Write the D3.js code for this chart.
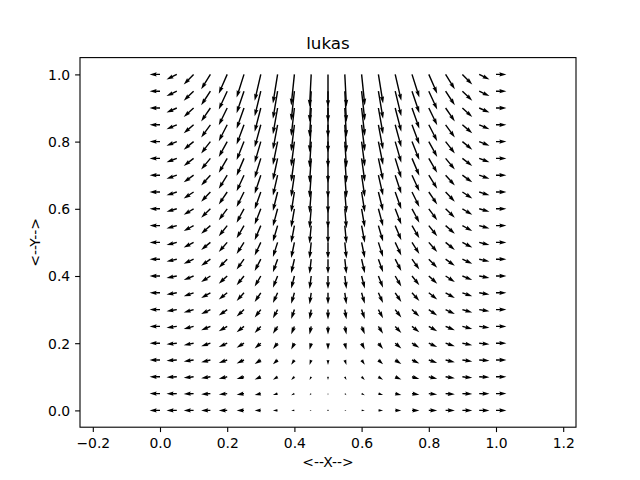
<!DOCTYPE html>
<html>
<head>
<meta charset="utf-8">
<script src="https://cdn.jsdelivr.net/npm/d3@7"></script>
<style>
  body { margin: 0; background: #fff; }
  svg { display: block; font-family: 'DejaVu Sans', sans-serif; }
</style>
</head>
<body>
<svg width="640" height="480"></svg>
<script>
// grid positions (tails of the arrows)
const xGrid = [0, 0.05, 0.1, 0.15, 0.2, 0.25, 0.3, 0.35, 0.4, 0.45, 0.5, 0.55, 0.6, 0.65, 0.7, 0.75, 0.8, 0.85, 0.9, 0.95, 1]
const yGrid = [0, 0.05, 0.1, 0.15, 0.2, 0.25, 0.3, 0.35, 0.4, 0.45, 0.5, 0.55, 0.6, 0.65, 0.7, 0.75, 0.8, 0.85, 0.9, 0.95, 1]

// horizontal component, the same on every row
const uByColumn = [-1.00, -0.99, -0.95, -0.89, -0.81, -0.71, -0.59, -0.45, -0.31, -0.16, 0.00, 0.16, 0.31, 0.45, 0.59, 0.71, 0.81, 0.89, 0.95, 0.99, 1.00]

// vertical component, one row per yGrid value (bottom to top)
const vRows = [
  [0, 0, 0, 0, 0, 0, 0, 0, 0, 0, 0, 0, 0, 0, 0, 0, 0, 0, 0, 0, 0],
  [0, -0.02, -0.05, -0.07, -0.09, -0.11, -0.13, -0.14, -0.15, -0.16, -0.16, -0.16, -0.15, -0.14, -0.13, -0.11, -0.09, -0.07, -0.05, -0.02, 0],
  [0, -0.05, -0.10, -0.14, -0.19, -0.22, -0.25, -0.28, -0.30, -0.31, -0.31, -0.31, -0.30, -0.28, -0.25, -0.22, -0.19, -0.14, -0.10, -0.05, 0],
  [0, -0.07, -0.15, -0.21, -0.28, -0.33, -0.38, -0.42, -0.45, -0.47, -0.47, -0.47, -0.45, -0.42, -0.38, -0.33, -0.28, -0.21, -0.15, -0.07, 0],
  [0, -0.10, -0.19, -0.29, -0.37, -0.44, -0.51, -0.56, -0.60, -0.62, -0.63, -0.62, -0.60, -0.56, -0.51, -0.44, -0.37, -0.29, -0.19, -0.10, 0],
  [0, -0.12, -0.24, -0.36, -0.46, -0.56, -0.64, -0.70, -0.75, -0.78, -0.79, -0.78, -0.75, -0.70, -0.64, -0.56, -0.46, -0.36, -0.24, -0.12, 0],
  [0, -0.15, -0.29, -0.43, -0.56, -0.67, -0.76, -0.84, -0.90, -0.93, -0.94, -0.93, -0.90, -0.84, -0.76, -0.67, -0.56, -0.43, -0.29, -0.15, 0],
  [0, -0.17, -0.34, -0.50, -0.65, -0.78, -0.89, -0.98, -1.05, -1.09, -1.10, -1.09, -1.05, -0.98, -0.89, -0.78, -0.65, -0.50, -0.34, -0.17, 0],
  [0, -0.20, -0.39, -0.57, -0.74, -0.89, -1.02, -1.12, -1.20, -1.24, -1.26, -1.24, -1.20, -1.12, -1.02, -0.89, -0.74, -0.57, -0.39, -0.20, 0],
  [0, -0.22, -0.44, -0.64, -0.83, -1.00, -1.14, -1.26, -1.35, -1.40, -1.41, -1.40, -1.35, -1.26, -1.14, -1.00, -0.83, -0.64, -0.44, -0.22, 0],
  [0, -0.25, -0.49, -0.72, -0.93, -1.11, -1.27, -1.40, -1.50, -1.55, -1.57, -1.55, -1.50, -1.40, -1.27, -1.11, -0.93, -0.72, -0.49, -0.25, 0],
  [0, -0.27, -0.53, -0.79, -1.02, -1.22, -1.40, -1.54, -1.64, -1.71, -1.73, -1.71, -1.64, -1.54, -1.40, -1.22, -1.02, -0.79, -0.53, -0.27, 0],
  [0, -0.29, -0.58, -0.86, -1.11, -1.33, -1.52, -1.68, -1.79, -1.86, -1.88, -1.86, -1.79, -1.68, -1.52, -1.33, -1.11, -0.86, -0.58, -0.29, 0],
  [0, -0.32, -0.63, -0.93, -1.20, -1.44, -1.65, -1.82, -1.94, -2.02, -2.04, -2.02, -1.94, -1.82, -1.65, -1.44, -1.20, -0.93, -0.63, -0.32, 0],
  [0, -0.34, -0.68, -1.00, -1.30, -1.55, -1.78, -1.96, -2.09, -2.17, -2.20, -2.17, -2.09, -1.96, -1.78, -1.55, -1.30, -1.00, -0.68, -0.34, 0],
  [0, -0.37, -0.73, -1.07, -1.39, -1.67, -1.91, -2.10, -2.24, -2.33, -2.36, -2.33, -2.24, -2.10, -1.91, -1.67, -1.39, -1.07, -0.73, -0.37, 0],
  [0, -0.39, -0.78, -1.14, -1.48, -1.78, -2.03, -2.24, -2.39, -2.48, -2.51, -2.48, -2.39, -2.24, -2.03, -1.78, -1.48, -1.14, -0.78, -0.39, 0],
  [0, -0.42, -0.82, -1.22, -1.57, -1.89, -2.16, -2.38, -2.54, -2.64, -2.67, -2.64, -2.54, -2.38, -2.16, -1.89, -1.57, -1.22, -0.82, -0.42, 0],
  [0, -0.44, -0.87, -1.29, -1.66, -2.00, -2.29, -2.52, -2.69, -2.79, -2.83, -2.79, -2.69, -2.52, -2.29, -2.00, -1.66, -1.29, -0.87, -0.44, 0],
  [0, -0.47, -0.92, -1.36, -1.76, -2.11, -2.41, -2.66, -2.84, -2.95, -2.98, -2.95, -2.84, -2.66, -2.41, -2.11, -1.76, -1.36, -0.92, -0.47, 0],
  [0, -0.49, -0.97, -1.43, -1.85, -2.22, -2.54, -2.80, -2.99, -3.10, -3.14, -3.10, -2.99, -2.80, -2.54, -2.22, -1.85, -1.43, -0.97, -0.49, 0]
]

const xTicks = [-0.2, 0, 0.2, 0.4, 0.6, 0.8, 1.0, 1.2]
const yTicks = [0, 0.2, 0.4, 0.6, 0.8, 1.0]

const margin = { top: 57.6, right: 64, bottom: 52.8, left: 80 }
const svg = d3.select('svg')
const width = +svg.attr('width')
const height = +svg.attr('height')
const innerWidth = width - margin.left - margin.right
const innerHeight = height - margin.top - margin.bottom

// equal aspect: y keeps its 5% margins, x is widened to match
const yDomain = [-0.05, 1.05]
const pxPerUnit = innerHeight / (yDomain[1] - yDomain[0])
const xHalf = innerWidth / pxPerUnit / 2
const xScale = d3.scaleLinear().domain([0.5 - xHalf, 0.5 + xHalf]).range([0, innerWidth])
const yScale = d3.scaleLinear().domain(yDomain).range([innerHeight, 0])

const g = svg.append('g').attr('transform', `translate(${margin.left},${margin.top})`)

// arrow geometry, in shaft widths
const shaft = 0.06 / 21 * innerWidth
const headLength = 5
const headAxisLength = 4.5
const headWidth = 3
const minShaft = 1
const minLength = 1
const arrowScale = 10.4 // px per data unit of the vector

const arrowPoints = (len) => {
  const L = len / shaft
  if (L < minLength) {
    return d3.range(7).map(i => {
      const th = i * Math.PI / 3
      return [Math.cos(th) * minLength * 0.5, Math.sin(th) * minLength * 0.5]
    })
  }
  const minsh = minShaft * headLength
  let xs, ys
  if (L < minsh) {
    const s = L / minsh
    xs = [0, minsh - headAxisLength, minsh - headLength, minsh].map(v => v * s)
    ys = [0.5, 0.5, 0.5 * headWidth, 0].map(v => v * s)
  } else {
    xs = [0, L - headAxisLength, L - headLength, L]
    ys = [0.5, 0.5, 0.5 * headWidth, 0]
  }
  const ii = [0, 1, 2, 3, 2, 1, 0]
  return ii.map((k, j) => [xs[k], j >= 3 ? -ys[k] : ys[k]])
}

const vectors = []
yGrid.forEach((y, r) => {
  xGrid.forEach((x, c) => {
    vectors.push({ x, y, u: uByColumn[c], v: vRows[r][c] })
  })
})

g.append('g').attr('class', 'quiver')
  .selectAll('path')
  .data(vectors)
  .join('path')
  .attr('fill', 'black')
  .attr('d', d => {
    const len = Math.hypot(d.u, d.v) * arrowScale
    const ang = Math.atan2(d.v, d.u)
    const ca = Math.cos(ang)
    const sa = Math.sin(ang)
    const x0 = xScale(d.x)
    const y0 = yScale(d.y)
    const pts = arrowPoints(len).map(([px, py]) => {
      const ax = px * shaft
      const ay = py * shaft
      return [x0 + ax * ca - ay * sa, y0 - (ax * sa + ay * ca)]
    })
    return 'M' + pts.map(p => p.join(',')).join('L') + 'Z'
  })

// axes
const fmt = d3.format('.1f')
const tickFmt = (n) => fmt(n).replace('-', '\u2212')

const xAxis = d3.axisBottom(xScale).tickValues(xTicks).tickFormat(tickFmt)
  .tickSizeInner(4.9).tickSizeOuter(0).tickPadding(4.9)
const yAxis = d3.axisLeft(yScale).tickValues(yTicks).tickFormat(tickFmt)
  .tickSizeInner(4.9).tickSizeOuter(0).tickPadding(4.9)

const gx = g.append('g').attr('transform', `translate(0,${innerHeight})`).call(xAxis)
const gy = g.append('g').call(yAxis)
for (const a of [gx, gy]) {
  a.select('.domain').remove()
  a.selectAll('line').attr('stroke', 'black').attr('stroke-width', 1.1)
  a.selectAll('text').attr('font-size', 13.9).attr('fill', 'black')
    .attr('font-family', "'DejaVu Sans', sans-serif")
}
gx.selectAll('text').attr('dy', 10.6)
gy.selectAll('text').attr('dy', 4.9)

g.append('rect')
  .attr('width', innerWidth)
  .attr('height', innerHeight)
  .attr('fill', 'none')
  .attr('stroke', 'black')
  .attr('stroke-width', 1.1)

// labels
svg.append('text')
  .attr('x', margin.left + innerWidth / 2)
  .attr('y', margin.top - 8.3)
  .attr('text-anchor', 'middle')
  .attr('font-size', 16.7)
  .text('lukas')

svg.append('text')
  .attr('x', margin.left + innerWidth / 2)
  .attr('y', 467)
  .attr('text-anchor', 'middle')
  .attr('font-size', 13.9)
  .text('<--X-->')

svg.append('text')
  .attr('transform', `translate(40,${margin.top + innerHeight / 2}) rotate(-90)`)
  .attr('text-anchor', 'middle')
  .attr('font-size', 13.9)
  .text('<--Y-->')
</script>
</body>
</html>
